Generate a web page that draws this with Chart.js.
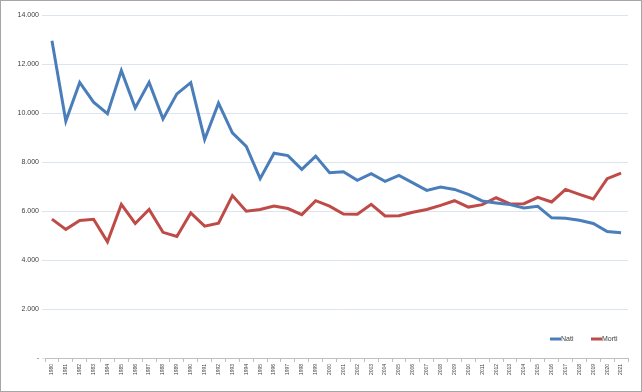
<!DOCTYPE html>
<html>
<head>
<meta charset="utf-8">
<script src="https://cdn.jsdelivr.net/npm/chart.js@4.4.1/dist/chart.umd.min.js"></script>
<style>
  html, body { margin: 0; padding: 0; background: #fff; }
  #wrap { position: absolute; left: 0; top: 0; width: 642px; height: 392px; box-sizing: border-box; border: 1px solid #a6a6a6; }
  #chart { display: block; }
</style>
</head>
<body>
<div id="wrap"><canvas id="chart" width="640" height="390"></canvas></div>
<script>
// years on the x axis
const years = [];
for (let y = 1980; y <= 2021; y++) years.push(String(y));

// births and deaths per year
const nati = [12950, 9670, 11250, 10440, 9970, 11730, 10210, 11250, 9760, 10780,
  11240, 8920, 10400, 9190, 8640, 7320, 8360, 8260, 7700, 8240,
  7560, 7600, 7250, 7520, 7210, 7450, 7150, 6840, 6980, 6880,
  6680, 6410, 6330, 6260, 6120, 6190, 5720, 5700, 5620, 5490,
  5160, 5110];
const morti = [5670, 5250, 5610, 5660, 4740, 6270, 5490, 6060, 5130, 4960,
  5920, 5380, 5500, 6630, 5990, 6060, 6200, 6100, 5850, 6420,
  6200, 5880, 5870, 6270, 5800, 5810, 5950, 6060, 6230, 6420,
  6160, 6260, 6540, 6290, 6300, 6560, 6370, 6880, 6680, 6490,
  7320, 7550];

const blue = "#4a7ebb";
const red = "#be4b48";

// small legend drawn inside the plot, bottom right
const legendInPlot = {
  id: "legendInPlot",
  afterDraw(chart) {
    const ctx = chart.ctx;
    const items = [["Nati", blue, 549], ["Morti", red, 590]];
    ctx.save();
    ctx.font = "7px 'Liberation Sans', Arial, sans-serif";
    ctx.textBaseline = "middle";
    items.forEach(([label, color, x]) => {
      ctx.strokeStyle = color;
      ctx.lineWidth = 3;
      ctx.beginPath();
      ctx.moveTo(x, 338);
      ctx.lineTo(x + 11, 338);
      ctx.stroke();
      ctx.fillStyle = "#404040";
      ctx.fillText(label, x + 11, 338);
    });
    ctx.restore();
  }
};

new Chart(document.getElementById("chart"), {
  type: "line",
  data: {
    labels: years,
    datasets: [
      { label: "Nati", data: nati, borderColor: blue, backgroundColor: blue, borderWidth: 3, pointRadius: 0, tension: 0 },
      { label: "Morti", data: morti, borderColor: red, backgroundColor: red, borderWidth: 3, pointRadius: 0, tension: 0 }
    ]
  },
  options: {
    responsive: false,
    animation: false,
    layout: { padding: { top: 14, right: 13, left: 0, bottom: 0 } },
    plugins: { legend: { display: false }, tooltip: { enabled: false } },
    scales: {
      x: {
        offset: true,
        grid: { offset: true, drawOnChartArea: false, tickLength: 4, color: "#bfbfbf" },
        border: { color: "#bfbfbf" },
        ticks: {
          maxRotation: 90, minRotation: 90, autoSkip: false, padding: 2,
          color: "#404040", font: { size: 5, family: "'Liberation Sans', Arial, sans-serif" }
        },
        afterFit(scale) { scale.height = 33; }
      },
      y: {
        min: 0, max: 14000,
        grid: { color: "#dce4f0", lineWidth: 1, tickLength: 3, drawTicks: true },
        border: { display: false },
        ticks: {
          stepSize: 2000, padding: 3,
          color: "#404040", font: { size: 7, family: "'Liberation Sans', Arial, sans-serif" },
          callback: v => v === 0 ? "-" : v.toLocaleString("it-IT")
        },
        afterFit(scale) { scale.width = 44; }
      }
    }
  },
  plugins: [legendInPlot]
});
</script>
</body>
</html>
